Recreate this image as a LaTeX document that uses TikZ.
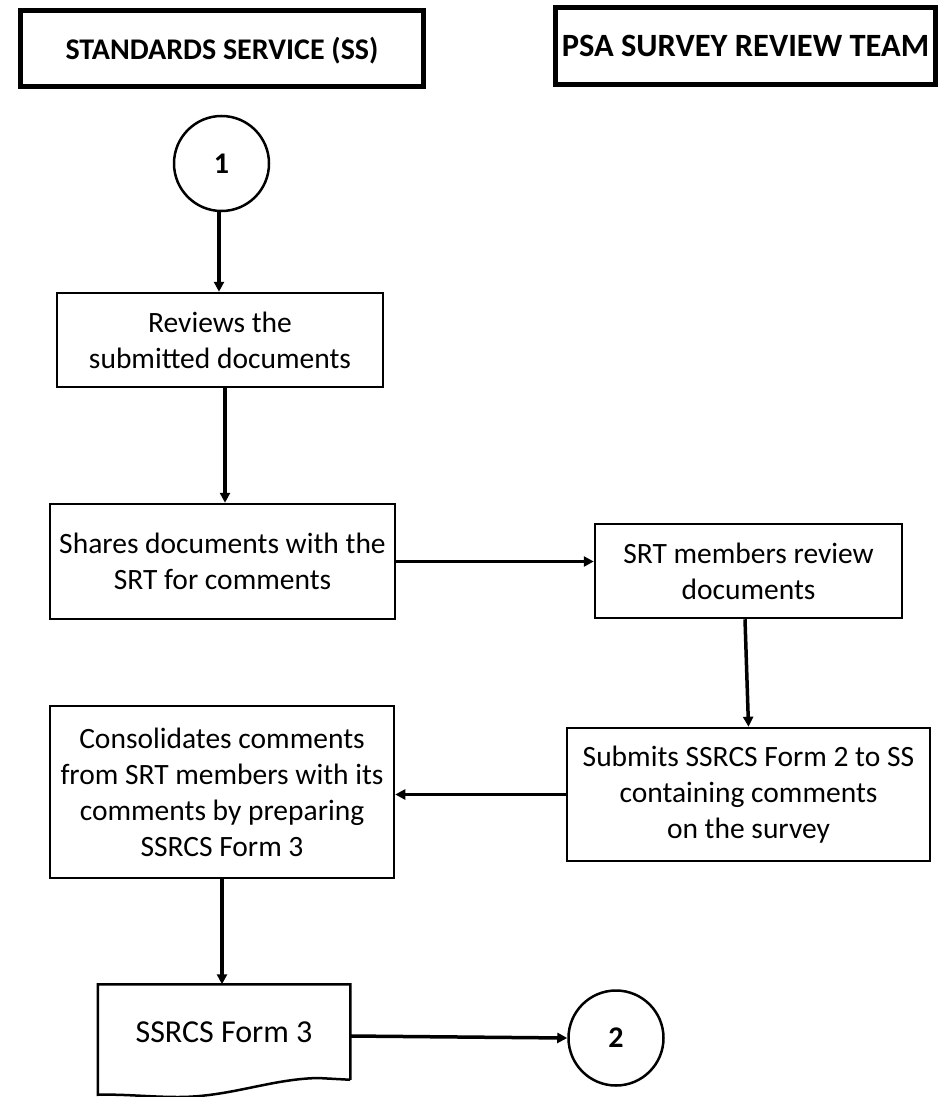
\documentclass[tikz,border=0pt]{standalone}
\usepackage{fontspec}
\setmainfont{Carlito}
\usetikzlibrary{arrows.meta}
\begin{document}
\begin{tikzpicture}[x=1pt,y=-1pt,
  header/.style={draw,line width=5pt,inner sep=0pt,font=\fontsize{30}{36}\selectfont\bfseries},
  stepbox/.style={draw,line width=2.5pt,inner sep=0pt,align=center,font=\fontsize{29.5}{36}\selectfont},
  connector/.style={draw,circle,line width=2.5pt,inner sep=0pt,minimum size=95pt,font=\fontsize{30}{36}\selectfont\bfseries},
  arr/.style={line width=3.5pt,-{Triangle[length=10pt,width=10pt]}},
  docshape/.style={line width=2.5pt,line join=miter}]
\useasboundingbox (0,0) rectangle (944,1097);

% column headers
\node[header,minimum width=403pt,minimum height=76pt,text depth=-1.5pt] (hss) at (222,48.5) {STANDARDS SERVICE (SS)};
\node[header,minimum width=380pt,minimum height=77pt,font=\fontsize{32.5}{36}\selectfont\bfseries] (hsrt) at (745.5,46) {PSA SURVEY REVIEW TEAM};

% flow steps
\node[connector] (c1) at (221.5,163.5) {1};
\node[stepbox,minimum width=326pt,minimum height=94pt] (rev) at (220,340) {Reviews the\\submitted documents};
\node[stepbox,minimum width=345pt,minimum height=115pt] (sh) at (222.5,561.5) {Shares documents with the\\SRT for comments};
\node[stepbox,minimum width=307pt,minimum height=94pt] (srt) at (748.5,571) {SRT members review\\documents};
\node[stepbox,minimum width=363pt,minimum height=133pt] (sub) at (748.5,794.5) {Submits SSRCS Form 2 to SS\\containing comments\\on the survey};
\node[stepbox,minimum width=344pt,minimum height=172pt] (con) at (222,792) {Consolidates comments\\from SRT members with its\\comments by preparing\\SSRCS Form 3};
\node[stepbox,draw=none,minimum width=250pt,minimum height=93pt,font=\fontsize{32}{36}\selectfont] (doc) at (224,1032) {SSRCS Form 3};
\node[connector] (c2) at (616,1038) {2};

% document symbol outline with wavy lower edge
\draw[docshape] (doc.south east) -- (doc.north east) -- (doc.north west) -- ([yshift=-15pt]doc.south west)
  .. controls (125,1094) and (150,1097) .. (178,1097)
  .. controls (230,1097) and (270,1079) .. (318,1078) -- (doc.south east);

% connectors
\draw[arr] ([xshift=-2.5pt]c1.south) -- ([xshift=-2.5pt]c1.south |- rev.north);
\draw[arr] ([xshift=5pt]rev.south) -- ([xshift=5pt]rev.south |- sh.north);
\draw[arr] (sh.east) -- (sh.east -| srt.west);
\draw[arr] ([xshift=-3.5pt]srt.south) -- (sub.north);
\draw[arr] (sub.west) -- (sub.west -| con.east);
\draw[arr] (con.south) -- ([xshift=-2pt]doc.north);
\draw[arr] ([yshift=-4pt]doc.east) -- (c2.west);
\end{tikzpicture}
\end{document}
